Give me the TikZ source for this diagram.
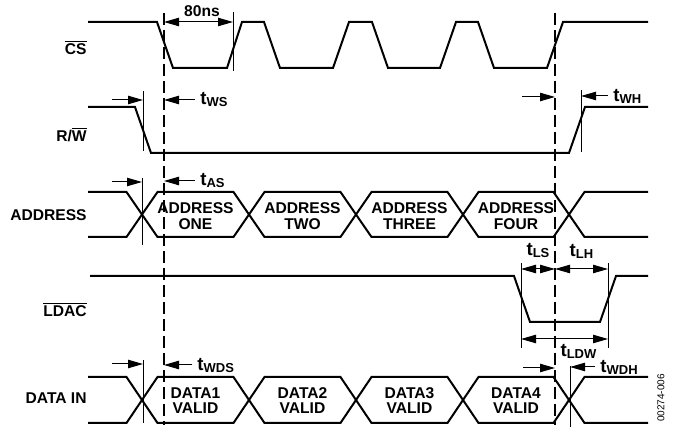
\documentclass[tikz,border=0pt]{standalone}
\usepackage{fontspec}
\setmainfont{Liberation Sans}
\usetikzlibrary{arrows.meta}

\newcommand{\tname}[1]{{\fontsize{9.3}{9}\selectfont t}\raisebox{-1pt}{\fontsize{6.5}{7}\selectfont #1}}
\newcommand{\ovl}[1]{$\overline{\mbox{#1}}$}

\begin{document}
\begin{tikzpicture}[x=0.5pt, y=-0.5pt,
    sig/.style={line width=1pt},
    tick/.style={line width=0.5pt},
    guide/.style={line width=0.6pt, dash pattern=on 6pt off 2.5pt},
    dim/.style={line width=0.5pt, -{Triangle[length=7.5pt,width=4.2pt]}},
    dimboth/.style={line width=0.5pt, {Triangle[length=7.5pt,width=4.2pt]}-{Triangle[length=7.5pt,width=4.2pt]}},
    lbl/.style={font=\fontsize{7.8}{8}\selectfont\bfseries, inner sep=0pt},
    tlbl/.style={font=\bfseries, inner xsep=2.5pt, inner ysep=0pt, anchor=west}]
    \useasboundingbox (0,0) rectangle (675,432);

    % signal names
    \node[lbl, anchor=base east] (cs) at (87,55) {\ovl{CS}};
    \node[lbl, anchor=base east] (rw) at (87,142) {R/\ovl{W}};
    \node[lbl, anchor=base east] (addr) at (87,220.5) {ADDRESS};
    \node[lbl, anchor=base east] (ldac) at (87,317) {\ovl{LDAC}};
    \node[lbl, anchor=base east] (din) at (87,404) {DATA IN};

    % guide lines
    \coordinate (g1t) at (164,13);
    \coordinate (g1b) at (164,425);
    \coordinate (g2t) at (555,13);
    \coordinate (g2b) at (555,425);
    \draw[guide] (g1t) -- (g1b);
    \draw[guide] (g2t) -- (g2b);

    % CS
    \draw[sig] (88,22) -- (157,22) -- (173,68) -- (227,68) -- (242,22) -- (264,22)
        -- (280,68) -- (333,68) -- (349,22) -- (372,22) -- (388,68) -- (440,68)
        -- (456,22) -- (478,22) -- (494,68) -- (547,68) -- (563,22) -- (648,22);
    \draw[tick] (233,12) -- (233,71);
    \draw[dimboth] (164,22) -- (233,22);
    \node[lbl, anchor=base] (ns) at (202,17) {80ns};

    % R/W
    \draw[sig] (88,107) -- (135,107) -- (151,153) -- (569,153) -- (585,107) -- (648,107);
    \draw[tick] (143,91) -- (143,151);
    \draw[dim] (112,100) -- (143,100);
    \node[tlbl] (tws) at (195,100) {\tname{WS}};
    \draw[dim] (tws.west) -- (tws.west -| g1t);
    \draw[tick] (581,90) -- (581,152);
    \draw[dim] (522,97) -- (555,97);
    \node[tlbl] (twh) at (608,96) {\tname{WH}};
    \draw[dim] (twh.west) -- (581,96);

    % ADDRESS
    \draw[sig] (88,192) -- (126.5,192) -- (157.5,237) -- (233.5,237) -- (264.5,192)
        -- (340.5,192) -- (371.5,237) -- (447.5,237) -- (478.5,192) -- (553.5,192)
        -- (584.5,237) -- (648,237);
    \draw[sig] (88,237) -- (126.5,237) -- (157.5,192) -- (233.5,192) -- (264.5,237)
        -- (340.5,237) -- (371.5,192) -- (447.5,192) -- (478.5,237) -- (553.5,237)
        -- (584.5,192) -- (648,192);
    \node[lbl, align=center, font=\fontsize{7.8}{8.25}\selectfont\bfseries] (a1) at (195.5,216) {ADDRESS\\ONE};
    \node[lbl, align=center, font=\fontsize{7.8}{8.25}\selectfont\bfseries] (a2) at (302.5,216) {ADDRESS\\TWO};
    \node[lbl, align=center, font=\fontsize{7.8}{8.25}\selectfont\bfseries] (a3) at (409.5,216) {ADDRESS\\THREE};
    \node[lbl, align=center, font=\fontsize{7.8}{8.25}\selectfont\bfseries] (a4) at (516,216) {ADDRESS\\FOUR};
    \draw[tick] (142,178) -- (142,245);
    \draw[dim] (112,182) -- (142,182);
    \node[tlbl] (tas) at (195,181) {\tname{AS}};
    \draw[dim] (tas.west) -- (tas.west -| g1t);

    % LDAC
    \draw[sig] (90,276) -- (514,276) -- (530,322) -- (600,322) -- (616,276) -- (648,276);
    \draw[tick] (521,263) -- (521,348);
    \draw[tick] (608,263) -- (608,348);
    \draw[dimboth] (521,269) -- (555,269);
    \draw[dimboth] (555,269) -- (608,269);
    \draw[dimboth] (521,339) -- (608,339);
    \node[tlbl, anchor=center] (tls) at (538,251) {\tname{LS}};
    \node[tlbl, anchor=center] (tlh) at (581.5,251) {\tname{LH}};
    \node[tlbl, anchor=center] (tldw) at (578.5,351) {\tname{LDW}};

    % DATA IN
    \draw[sig] (88,377) -- (126.5,377) -- (157.5,423) -- (233.5,423) -- (264.5,377)
        -- (340.5,377) -- (371.5,423) -- (447.5,423) -- (478.5,377) -- (553.5,377)
        -- (584.5,423) -- (648,423);
    \draw[sig] (88,423) -- (126.5,423) -- (157.5,377) -- (233.5,377) -- (264.5,423)
        -- (340.5,423) -- (371.5,377) -- (447.5,377) -- (478.5,423) -- (553.5,423)
        -- (584.5,377) -- (648,377);
    \node[lbl, align=center, font=\fontsize{7.8}{7.15}\selectfont\bfseries] (d1) at (195.5,400.5) {DATA1\\VALID};
    \node[lbl, align=center, font=\fontsize{7.8}{7.15}\selectfont\bfseries] (d2) at (302.5,400.5) {DATA2\\VALID};
    \node[lbl, align=center, font=\fontsize{7.8}{7.15}\selectfont\bfseries] (d3) at (409.5,400.5) {DATA3\\VALID};
    \node[lbl, align=center, font=\fontsize{7.8}{7.15}\selectfont\bfseries] (d4) at (516,400.5) {DATA4\\VALID};
    \draw[tick] (143,360) -- (143,423);
    \draw[dim] (112,364) -- (143,364);
    \node[tlbl] (twds) at (192,365) {\tname{WDS}};
    \draw[dim] (twds.west) -- (twds.west -| g1t);
    \draw[tick] (570,366) -- (570,427);
    \draw[dim] (523,368) -- (555,368);
    \node[tlbl] (twdh) at (595,367) {\tname{WDH}};
    \draw[dim] (twdh.west) -- (570,367);

    \node[font=\fontsize{5}{6}\selectfont, rotate=90, inner sep=0pt] (fig) at (661,398) {00274-006};
\end{tikzpicture}
\end{document}
